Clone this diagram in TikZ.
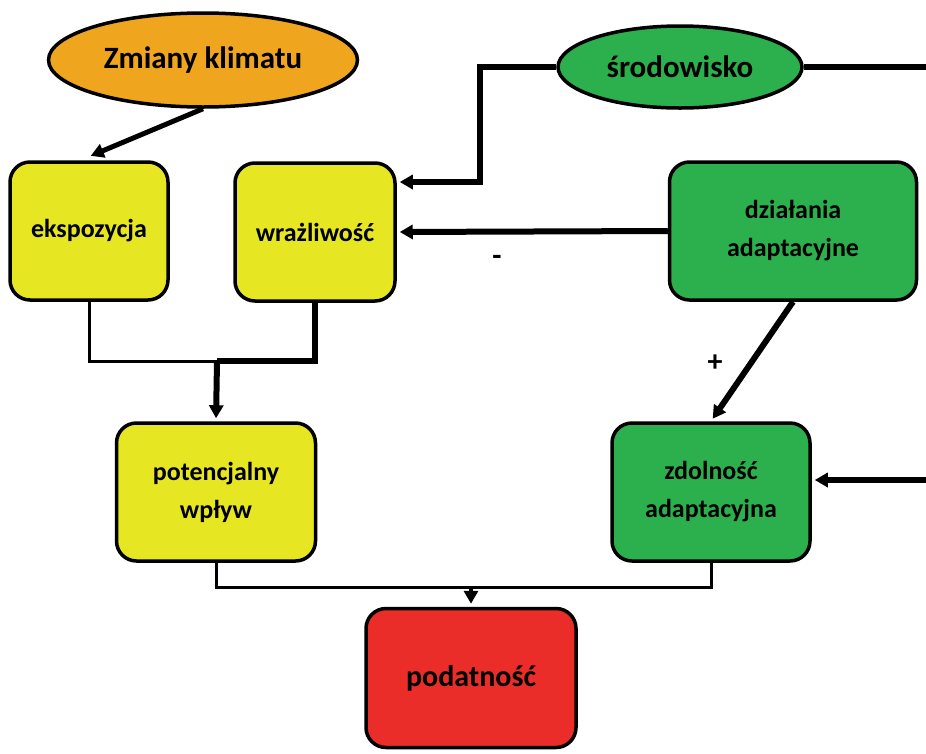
\documentclass[tikz,border=0pt]{standalone}
\usepackage{fontspec}
\setmainfont{Carlito}
\usetikzlibrary{shapes.geometric,arrows.meta}
\definecolor{boxyellow}{RGB}{230,230,35}
\definecolor{bloborange}{RGB}{240,165,30}
\definecolor{boxgreen}{RGB}{44,176,78}
\definecolor{boxred}{RGB}{234,45,40}
\begin{document}
\begin{tikzpicture}[x=1pt,y=-1pt,
		box/.style={draw, line width=3.5pt, rounded corners=20pt, inner sep=0pt,
			align=center, minimum height=138pt, font=\fontsize{26}{38}\selectfont\bfseries},
		blob/.style={draw, ellipse, line width=3.5pt, inner sep=0pt,
			font=\fontsize{31}{36}\selectfont\bfseries},
		thickarr/.style={line width=6pt, shorten >=3pt, -{Triangle[length=13pt,width=14pt]}},
		thinline/.style={line width=3pt},
		sign/.style={font=\fontsize{30}{30}\selectfont\bfseries}]
	\useasboundingbox (0,0) rectangle (926,753);
	% ellipses
	\node[blob, fill=bloborange, minimum width=309pt, minimum height=94pt] (klimat) at (203,60) {Zmiany klimatu};
	\node[blob, fill=boxgreen, minimum width=244pt, minimum height=82pt] (srod) at (680,67) {środowisko};
	% yellow boxes: name/x/y/width/text
	\foreach \name/\px/\py/\bw/\txt in {eksp/89/231/158/ekspozycja,
			wraz/315/232/160/wrażliwość,
			potenc/216/492/199/{potencjalny\\wpływ}}
	{
		\node[box, fill=boxyellow, minimum width=\bw pt] (\name) at (\px,\py) {\txt};
	}
	% green boxes
	\foreach \name/\px/\py/\bw/\txt in {dzial/793/231/247/{działania\\adaptacyjne},
			zdoln/711/492/198/{zdolność\\adaptacyjna}}
	{
		\node[box, fill=boxgreen, minimum width=\bw pt] (\name) at (\px,\py) {\txt};
	}
	\node[box, fill=boxred, minimum width=210pt, minimum height=139pt,
		font=\fontsize{30}{36}\selectfont\bfseries] (podat) at (471,678) {podatność};
	% bends and free ends
	\coordinate (srodbend) at (480,182);
	\coordinate (edgetop) at (926,67);
	\coordinate (edgeright) at (926,480);
	\coordinate (upjoin) at (217,361);
	\coordinate (lowjoin) at (471,587);
	\coordinate (eksptop) at (88,157);
	% edges
	\draw[thickarr, line width=5pt] (klimat.south) -- (eksptop);
	\draw[thickarr] (srod.west)  % to wrazliwosc
		-| (srodbend)
		-- (srodbend -| wraz.east);
	\draw[line width=6pt] (srod.east) -- (edgetop);
	\draw[thickarr] (edgeright) -- (edgeright -| zdoln.east);
	\draw[thickarr] (dzial.west) -- (wraz.east);
	\draw[thickarr] (dzial.south) -- (zdoln.north);
	\draw[thinline] (eksp.south) |- (upjoin);
	\draw[line width=6pt] (wraz.south) |- (upjoin);
	\draw[thickarr] (upjoin) -- (potenc.north);
	\draw[thinline] (potenc.south)
		|- (lowjoin)
		-| (zdoln.south);
	\draw[thickarr, line width=4.5pt] (lowjoin) -- (podat.north);
	% signs
	\node[sign] (minus) at (497,260) {-};
	\node[sign] (plus) at (715,363) {+};
\end{tikzpicture}
\end{document}
